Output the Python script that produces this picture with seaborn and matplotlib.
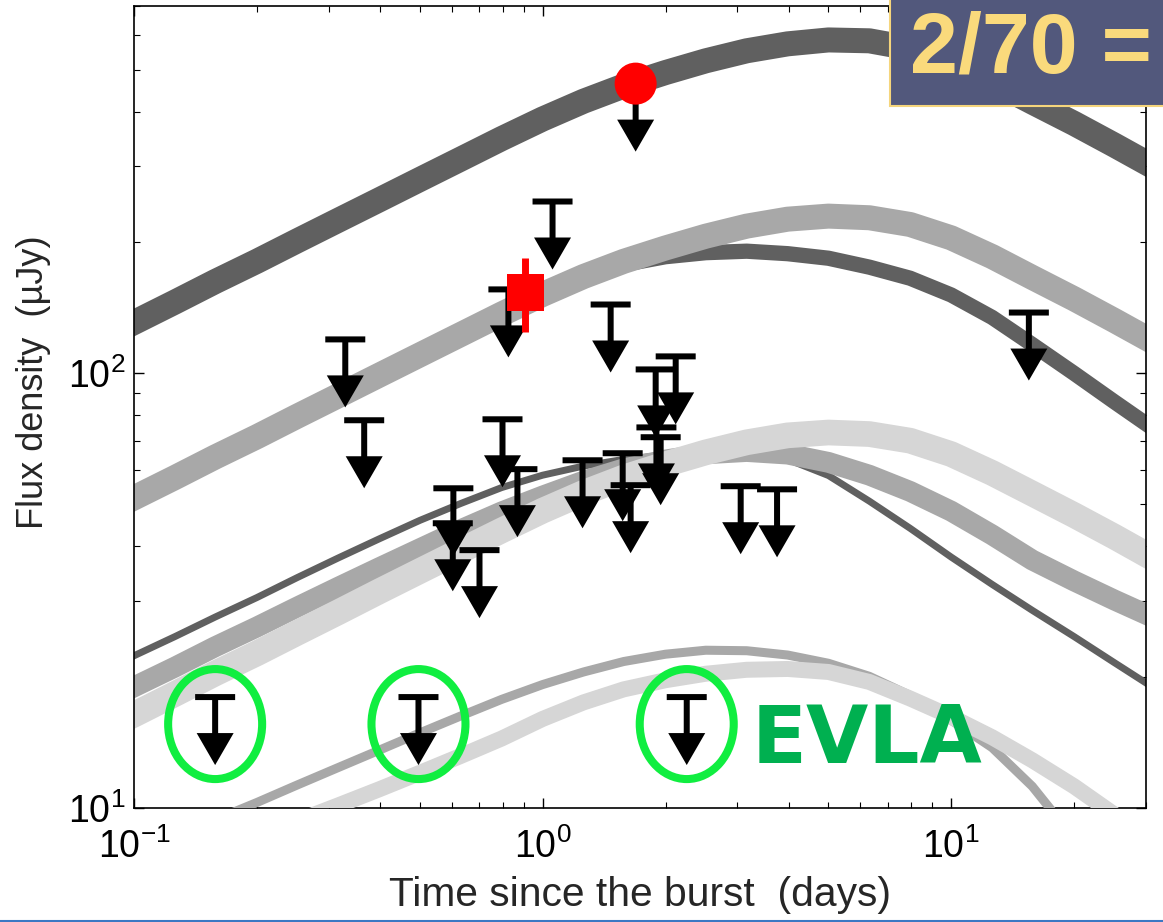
import matplotlib
matplotlib.use("Agg")
import numpy as np
import matplotlib.pyplot as plt
from matplotlib.path import Path
from matplotlib.markers import MarkerStyle
from matplotlib.patches import Rectangle
from matplotlib.lines import Line2D
from matplotlib.ticker import NullFormatter
import seaborn as sns

DPI = 100

# Model light curves (time in days, flux in uJy)
grid_t = [0.0794, 0.1, 0.126, 0.158, 0.2, 0.251, 0.316, 0.398, 0.501, 0.631, 0.794, 1.0, 1.26,
          1.58, 2.0, 2.51, 3.16, 3.98, 5.01, 6.31, 7.94, 10.0, 12.6, 15.8, 20.0, 25.1, 31.6]

top_dark_f = [117.5, 130.9, 145.9, 162.6, 181.1, 201.8, 224.9, 250.6, 279.3, 311.2, 346.7, 384.6, 422.7,
              458.1, 492.0, 523.6, 552.1, 572.8, 584.8, 582.1, 559.8, 520.0, 469.9, 420.7, 375.8, 335.0, 297.2]
mid_gray_f = [46.4, 51.7, 57.6, 64.2, 71.5, 79.7, 88.8, 99.0, 110.3, 122.9, 136.9, 151.9, 167.0,
              181.0, 194.3, 206.8, 218.1, 226.3, 230.0, 228.0, 220.0, 205.0, 185.6, 166.2, 148.4, 132.3, 117.4]
mid_dark_f = [46.4, 51.7, 57.6, 64.2, 71.5, 79.7, 88.8, 99.0, 110.3, 122.9, 136.9, 151.9, 166.0,
              178.0, 185.5, 189.5, 191.0, 188.5, 184.0, 175.5, 165.5, 151.5, 134.5, 116.5, 100.0, 86.0, 74.0]
low_dark_f = [20.2, 22.4, 24.8, 27.5, 30.5, 33.9, 37.6, 41.6, 45.9, 50.2, 54.6, 58.3, 61.2,
              63.4, 64.9, 65.5, 65.2, 63.4, 58.2, 50.8, 44.0, 37.8, 32.7, 28.5, 24.8, 21.6, 18.8]
low_gray_f = [17.1, 19.0, 21.1, 23.5, 26.1, 29.0, 32.2, 35.7, 39.5, 43.7, 48.0, 52.2, 56.5,
              60.3, 63.2, 65.3, 66.1, 65.2, 62.4, 58.3, 53.5, 48.2, 42.5, 37.2, 33.3, 30.1, 27.3]
low_light_f = [14.8, 16.4, 18.3, 20.4, 22.7, 25.3, 28.2, 31.5, 35.1, 39.1, 43.5, 48.3, 53.1,
               57.6, 61.8, 65.8, 69.4, 72.0, 73.1, 72.5, 70.0, 65.2, 59.0, 52.9, 47.2, 42.1, 37.3]

bot_gray_t = [0.158, 0.2, 0.251, 0.316, 0.398, 0.501, 0.631, 0.794, 1.0, 1.26, 1.58,
              2.0, 2.51, 3.16, 3.98, 5.01, 6.31, 7.94, 10.0, 12.6, 15.8, 20.0]
bot_gray_f = [9.40, 10.30, 11.30, 12.39, 13.58, 14.89, 16.29, 17.78, 19.23, 20.56, 21.73,
              22.59, 23.07, 23.01, 22.49, 21.53, 20.09, 18.16, 15.92, 13.77, 11.22, 8.51]

bot_light_t = [0.251, 0.316, 0.398, 0.501, 0.631, 0.794, 1.0, 1.26, 1.58, 2.0, 2.51,
               3.16, 3.98, 5.01, 6.31, 7.94, 10.0, 12.6, 15.8, 20.0, 25.1, 31.6]
bot_light_f = [9.33, 10.14, 11.04, 12.05, 13.18, 14.45, 16.03, 17.50, 18.75, 19.68, 20.37,
               20.80, 20.89, 20.56, 19.50, 17.86, 16.22, 14.55, 12.88, 11.22, 9.66, 8.22]

# Upper limits (days, uJy)
lim_t = [0.329, 0.366, 1.058, 0.825, 1.468, 2.118, 1.892, 1.90, 1.946, 0.798, 0.868,
         0.605, 0.603, 0.701, 1.253, 1.571, 1.643, 3.055, 3.75, 15.5, 1.69]
lim_f = [119.7, 78.0, 248.5, 156, 144, 109.4, 102.1, 75.1, 71.3, 78.4, 60.2,
         54.4, 45.2, 39.2, 63.1, 65.5, 55.3, 55.0, 54.1, 138, 464]

# EVLA upper limits
evla_t = [0.158, 0.497, 2.254]
evla_f = [18.0, 18.0, 18.0]

# Detections
circ_t, circ_f = [1.69], [464]
sq_t, sq_f = [0.908], [153.5]
sq_err_lo, sq_err_hi = [29.2], [30.4]

DARK, GRAY, LIGHT = "#606060", "#a8a8a8", "#d6d6d6"


def marker_area(path):
    # scatter area so that one path unit = one pixel
    r = np.abs(path.vertices).max()
    return (2 * r * 72 / DPI) ** 2


# upper-limit glyph: bar, stem and arrow head (pixel units, origin at bar)
lim_verts = [(-20, 3), (20, 3), (20, -3), (3, -3), (3, -36), (18.5, -36), (0, -68),
             (-18.5, -36), (-3, -36), (-3, -3), (-20, -3), (-20, 3)]
lim_path = Path(lim_verts, [Path.MOVETO] + [Path.LINETO] * 10 + [Path.CLOSEPOLY])

circ = Path.unit_circle()
ell_path = Path(circ.vertices * [47, 55] + [0, -27], circ.codes)

sns.set_theme(style="ticks")
plt.rcParams["font.family"] = ["Liberation Sans", "DejaVu Sans"]
plt.rcParams["mathtext.fontset"] = "custom"
plt.rcParams["mathtext.rm"] = "Liberation Sans"
plt.rcParams["mathtext.it"] = "Liberation Sans:italic"
plt.rcParams["mathtext.bf"] = "Liberation Sans:bold"

fig = plt.figure(figsize=(11.63, 9.22), dpi=DPI)
fig.patch.set_facecolor("white")
ax = fig.add_axes([0.1152, 0.1236, 0.8702, 0.8699])
ax.set_xscale("log")
ax.set_yscale("log")

curves = [
    (grid_t, top_dark_f, DARK, 18),
    (grid_t, mid_dark_f, DARK, 11),
    (grid_t, mid_gray_f, GRAY, 18),
    (grid_t, low_dark_f, DARK, 5),
    (grid_t, low_gray_f, GRAY, 15),
    (grid_t, low_light_f, LIGHT, 18.5),
    (bot_gray_t, bot_gray_f, GRAY, 6.5),
    (bot_light_t, bot_light_f, LIGHT, 11.5),
]
for i, (t, f, c, lw) in enumerate(curves):
    sns.lineplot(x=t, y=f, ax=ax, color=c, linewidth=lw, estimator=None,
                 solid_capstyle="butt", solid_joinstyle="round", zorder=2 + i * 0.1)

sns.scatterplot(x=lim_t + evla_t, y=lim_f + evla_f, ax=ax, marker=MarkerStyle(lim_path),
                s=marker_area(lim_path), color="black", edgecolor="none", linewidth=0, zorder=5)

ax.scatter(evla_t, evla_f, marker=MarkerStyle(ell_path), s=marker_area(ell_path),
           facecolors="none", edgecolors="#10ee40", linewidths=5.8, zorder=6)

ax.errorbar(sq_t, sq_f, yerr=[sq_err_lo, sq_err_hi], fmt="none", ecolor="red",
            elinewidth=5, capsize=0, zorder=7)
sns.scatterplot(x=sq_t, y=sq_f, ax=ax, marker="s", s=(37 * 0.72) ** 2, color="red",
                edgecolor="none", linewidth=0, zorder=8)
sns.scatterplot(x=circ_t, y=circ_f, ax=ax, marker="o", s=(42 * 0.72) ** 2, color="red",
                edgecolor="none", linewidth=0, zorder=8)

ax.set_xlim(0.1, 30)
ax.set_ylim(10, 700)

ax.set_xlabel("Time since the burst  (days)", fontsize=29.3)
ax.set_ylabel("Flux density  (\u00b5Jy)", fontsize=26)
ax.xaxis.set_label_coords(0.5, -0.085)
ax.yaxis.set_label_coords(-0.0824, 0.5306)

ax.tick_params(which="both", direction="in", top=True, right=True, colors="black")
ax.tick_params(which="major", length=7, width=1, labelsize=27)
ax.tick_params(axis="x", which="major", pad=15)
ax.tick_params(axis="y", which="major", pad=6)
ax.tick_params(which="minor", length=4, width=0.8)
ax.xaxis.set_minor_formatter(NullFormatter())
ax.yaxis.set_minor_formatter(NullFormatter())
for sp in ax.spines.values():
    sp.set_color("black")
    sp.set_linewidth(1.2)

# EVLA annotation
fig.text(752 / 1163, 1 - 763 / 922, "EVLA", color="#00b050", fontsize=58,
         fontweight="bold", family="DejaVu Sans", va="baseline", ha="left")

# overlay box in the top right corner
fig.add_artist(Rectangle((890 / 1163, 1 - 106 / 922), 0.3, 0.2, transform=fig.transFigure,
                         facecolor="#52587c", edgecolor="#f5d57c", linewidth=1.5, zorder=10))
fig.text(910 / 1163, 1 - 73 / 922, "2/70 =", color="#fada7c", fontsize=62,
         fontweight="bold", va="baseline", ha="left", zorder=11)

# thin blue edge at the bottom
fig.add_artist(Line2D([0, 1], [0.001, 0.001], transform=fig.transFigure, color="#3b78c4",
                      linewidth=1.5, zorder=10))

fig.savefig("out.png", dpi=DPI)
